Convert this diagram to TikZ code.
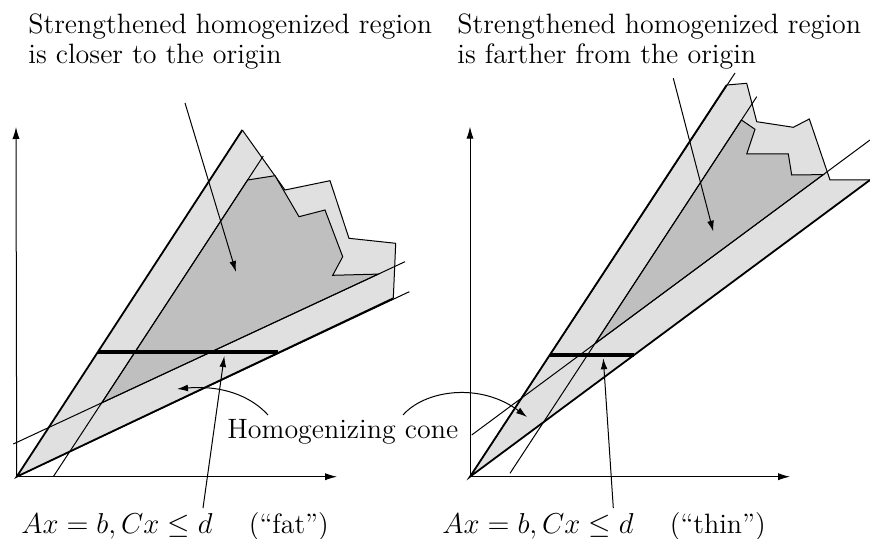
\documentclass[tikz,border=0pt]{standalone}
\usetikzlibrary{arrows.meta}
\definecolor{conegray}{gray}{0.88}
\definecolor{regiongray}{gray}{0.75}
\tikzset{
  axis/.style={line width=0.5pt,-{Latex[length=6pt,width=3.6pt]}},
  pointer/.style={line width=0.5pt,-{Latex[length=5.5pt,width=3.4pt]}},
  thinline/.style={line width=0.5pt},
  coneedge/.style={line width=0.9pt},
  slab/.style={line width=1.8pt},
  txt/.style={inner sep=0pt},
}

\begin{document}
\begin{tikzpicture}[x=0.5pt,y=-0.5pt,font=\fontsize{14}{15}\selectfont]
  \useasboundingbox (0,0) rectangle (870,539);

  % left panel: fat cone
  \coordinate (oL) at (16.7,476.7);
  \coordinate (apexL) at (242.3,130);
  \coordinate (footL) at (393.3,298.3);
  \fill[conegray] (oL) -- (apexL) -- (285,190) -- (330,180.7) -- (349,238.3) -- (395.7,243.3) -- (footL) -- cycle;
  \draw[thinline] (apexL) -- (285,190) -- (330,180.7) -- (349,238.3) -- (395.7,243.3) -- (footL);
  \filldraw[fill=regiongray,thinline] (101.8,402.8) -- (247.6,180) -- (275,175.7) -- (299,216.7) -- (325,210) -- (342.7,256.7) -- (332.7,275.3) -- (378.3,274.1) -- cycle;
  \draw[thinline] (53.3,476.7) -- (263.3,156);
  \draw[thinline] (13.3,444) -- (405,261.7);
  \draw[thinline] (oL) -- (409.3,291.7);
  \draw[coneedge] (apexL) -- (oL) -- (footL);
  \draw[axis] (oL) -- (16,127);
  \draw[axis] (oL) -- (337,476.7);
  \draw[slab] (97.8,351.7) -- (278,351.7);

  % right panel: thin cone
  \coordinate (oR) at (470,476.7);
  \coordinate (apexR) at (726.7,85);
  \coordinate (footR) at (870,180);
  \fill[conegray] (oR) -- (apexR) -- (746.7,83.3) -- (756.7,121.7) -- (793.3,127.3) -- (809.3,119) -- (830,180) -- (footR) -- cycle;
  \draw[thinline] (apexR) -- (746.7,83.3) -- (756.7,121.7) -- (793.3,127.3) -- (809.3,119) -- (830,180) -- (footR);
  \filldraw[fill=regiongray,thinline] (594.9,343.8) -- (741.4,120) -- (755,129.3) -- (746.7,154) -- (788.3,154) -- (791.7,175) -- (823.3,174.6) -- cycle;
  \draw[thinline] (510,473.3) -- (756.7,96.7);
  \draw[thinline] (471.7,435) -- (870,140);
  \draw[thinline] (oR) -- (735,73);
  \draw[coneedge] (apexR) -- (oR) -- (footR);
  \draw[axis] (oR) -- (470,126.7);
  \draw[axis] (oR) -- (790,476.7);
  \draw[slab] (549.7,355) -- (634,355);

  % labels
  \node[txt,align=left,anchor=north west] (topL) at (28,13.6) {Strengthened homogenized region\\is closer to the origin};
  \node[txt,align=left,anchor=north west] (topR) at (457,13.6) {Strengthened homogenized region\\is farther from the origin};
  \node[txt,anchor=base west] (cone) at (227,438) {Homogenizing cone};
  \node[txt,anchor=base west] (eqL) at (21,533) {$Ax=b, Cx\leq d$\hspace{1.3em}(``fat'')};
  \node[txt,anchor=base west] (eqR) at (442,533) {$Ax=b, Cx\leq d$\hspace{1.3em}(``thin'')};

  % pointers
  \coordinate (tailL) at (185,103);
  \coordinate (headL) at (236,272);
  \coordinate (tailR) at (673.3,78.3);
  \coordinate (headR) at (713.3,231.7);
  \coordinate (slabL) at (224.3,356);
  \coordinate (slabR) at (603.3,358.3);
  \coordinate (baseL) at (203,508);
  \coordinate (baseR) at (613.3,508);
  \coordinate (coneA) at (268,415);
  \coordinate (coneB) at (403,415);
  \coordinate (insideL) at (177,389);
  \coordinate (insideR) at (527,417);
  \draw[pointer] (tailL) -- (headL);
  \draw[pointer] (tailR) -- (headR);
  \draw[pointer] (baseL) -- (slabL);
  \draw[pointer] (baseR) -- (slabR);
  \draw[pointer] (coneA) .. controls (250,395) and (220,385) .. (insideL);
  \draw[pointer] (coneB) .. controls (425,390) and (480,382) .. (insideR);
\end{tikzpicture}
\end{document}
